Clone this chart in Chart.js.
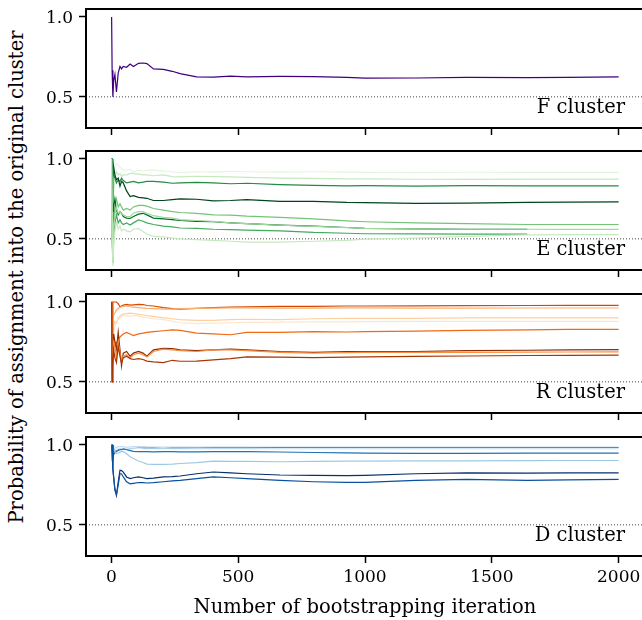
<!DOCTYPE html>
<html><head><meta charset="utf-8">
<script src="https://cdn.jsdelivr.net/npm/chart.js@4.4.0/dist/chart.umd.min.js"></script>
<style>
html,body{margin:0;padding:0;background:#fff;overflow:hidden;width:642px;height:620px;position:relative;}
canvas{position:absolute;left:0;}
#ylab{position:absolute;width:600px;left:-283px;top:267px;height:20px;line-height:20px;text-align:center;transform:rotate(-90deg);font-family:"DejaVu Serif";font-size:19.5px;color:#000;white-space:nowrap;}
</style></head><body>
<div id="ylab"></div>
<canvas id="c0"></canvas><canvas id="c1"></canvas><canvas id="c2"></canvas><canvas id="c3"></canvas>
<script>
// ---------- data ----------
const ITERS = [1,3,6,9,14,20,27,34,40,47,60,74,87,107,125,140,166,205,240,271,336,402,470,534,665,797,928,1000,1200,1400,1640,1800,2000];
const X_TICKS = [0,500,1000,1500,2000];
const Y_TICKS = [0.5,1.0];
const REF_LEVEL = 0.5;
const X_RANGE = [-100,2100];
const Y_RANGE = [0.305,1.05];
const PANEL_LABELS = ['F cluster','E cluster','R cluster','D cluster'];
const X_LABEL = 'Number of bootstrapping iteration';
const Y_LABEL = 'Probability of assignment into the original cluster';

const F_LINES = [
 [1.0,0.667,0.5,0.6,0.64,0.53,0.65,0.69,0.675,0.69,0.685,0.705,0.69,0.71,0.712,0.708,0.675,0.672,0.66,0.645,0.625,0.623,0.63,0.625,0.628,0.627,0.622,0.617,0.618,0.622,0.62,0.622,0.625]
];
const F_COLORS = ['#3f007d'];

const E_LINES = [
 [1,1,1,0.9,0.95,0.97,0.96,0.95,0.94,0.93,0.93,0.935,0.92,0.93,0.925,0.93,0.93,0.925,0.92,0.915,0.92,0.918,0.922,0.92,0.918,0.92,0.918,0.916,0.915,0.917,0.916,0.916,0.916],
 [1,1,0.67,0.8,0.88,0.92,0.9,0.91,0.89,0.9,0.9,0.91,0.91,0.905,0.9,0.9,0.895,0.9,0.89,0.888,0.892,0.89,0.888,0.885,0.88,0.878,0.876,0.875,0.873,0.872,0.874,0.874,0.874],
 [1,1,1,0.9,0.88,0.85,0.87,0.86,0.88,0.865,0.85,0.855,0.86,0.85,0.855,0.86,0.86,0.855,0.848,0.85,0.853,0.85,0.845,0.848,0.84,0.835,0.832,0.833,0.83,0.833,0.832,0.832,0.832],
 [1,1,1,0.95,0.9,0.87,0.88,0.83,0.86,0.85,0.8,0.765,0.77,0.76,0.757,0.754,0.74,0.74,0.745,0.75,0.748,0.738,0.74,0.745,0.735,0.735,0.728,0.727,0.722,0.724,0.728,0.73,0.731],
 [1,0.5,0.4,0.6,0.7,0.75,0.7,0.72,0.7,0.68,0.69,0.68,0.7,0.71,0.71,0.705,0.69,0.68,0.67,0.665,0.66,0.65,0.648,0.642,0.635,0.625,0.612,0.607,0.6,0.595,0.59,0.59,0.59],
 [1,1,0.5,0.7,0.75,0.68,0.65,0.67,0.66,0.64,0.63,0.628,0.64,0.655,0.66,0.65,0.63,0.625,0.62,0.615,0.61,0.607,0.6,0.595,0.586,0.58,0.571,0.566,0.562,0.56,0.56,null,null],
 [1,0.5,0.35,0.5,0.6,0.65,0.6,0.62,0.6,0.59,0.6,0.586,0.6,0.618,0.61,0.6,0.59,0.58,0.575,0.568,0.565,0.56,0.558,0.555,0.55,0.54,0.535,0.532,0.531,0.53,0.53,null,null],
 [1,0.67,0.45,0.55,0.65,0.7,0.66,0.67,0.66,0.65,0.64,0.64,0.66,0.67,0.67,0.66,0.645,0.635,0.63,0.62,0.615,0.61,0.6,0.595,0.585,0.578,0.57,0.566,0.562,0.56,0.56,0.559,0.559],
 [1,0.5,0.33,0.45,0.55,0.6,0.56,0.58,0.55,0.56,0.55,0.544,0.56,0.565,0.545,0.53,0.515,0.513,0.505,0.5,0.495,0.49,0.485,0.48,0.48,0.485,0.49,0.498,0.505,0.515,0.525,0.527,0.527]
];
const E_COLORS = ['#e5f5e0','#c7e9c0','#238b45','#00441b','#74c476','#006d2c','#41ab5d','#a1d99b','#c7e9c0'];

const R_LINES = [
 [1,1,1,1,1,1,0.99,0.97,0.975,0.98,0.985,0.98,0.982,0.985,0.984,0.978,0.975,0.965,0.958,0.955,0.96,0.965,0.968,0.97,0.972,0.973,0.975,0.975,0.976,0.977,0.978,0.979,0.979],
 [1,1,0.9,0.92,0.93,0.95,0.96,0.965,0.97,0.972,0.975,0.97,0.968,0.965,0.962,0.96,0.958,0.955,0.955,0.958,0.96,0.962,0.963,0.963,0.962,0.962,0.963,0.963,0.962,0.962,0.9625,0.9625,0.9625],
 [1,1,0.8,0.85,0.88,0.87,0.9,0.91,0.92,0.925,0.927,0.93,0.928,0.922,0.92,0.915,0.91,0.9,0.895,0.89,0.885,0.885,0.89,0.892,0.89,0.895,0.897,0.898,0.898,0.9,0.9,0.9,0.9],
 [1,0.67,0.75,0.8,0.85,0.88,0.89,0.9,0.91,0.915,0.915,0.91,0.915,0.912,0.905,0.9,0.895,0.89,0.88,0.87,0.865,0.868,0.87,0.872,0.874,0.876,0.876,0.877,0.878,0.878,0.879,0.879,0.879],
 [1,1,0.67,0.7,0.75,0.74,0.77,0.78,0.79,0.8,0.81,0.8,0.79,0.8,0.805,0.81,0.815,0.82,0.825,0.822,0.805,0.8,0.795,0.81,0.81,0.815,0.812,0.815,0.818,0.822,0.826,0.828,0.829],
 [1,0.5,0.5,0.8,0.75,0.7,0.81,0.7,0.6,0.68,0.69,0.66,0.68,0.69,0.68,0.66,0.7,0.71,0.708,0.7,0.695,0.7,0.705,0.7,0.69,0.685,0.69,0.69,0.69,0.695,0.698,0.7,0.702],
 [1,0.5,0.67,0.75,0.72,0.65,0.75,0.68,0.63,0.66,0.67,0.65,0.67,0.68,0.67,0.655,0.69,0.705,0.7,0.695,0.69,0.7,0.7,0.695,0.685,0.68,0.683,0.685,0.684,0.685,0.686,0.687,0.6875],
 [1,0.5,0.6,0.7,0.65,0.62,0.72,0.66,0.62,0.65,0.66,0.645,0.64,0.645,0.64,0.63,0.625,0.62,0.635,0.629,0.63,0.638,0.645,0.656,0.655,0.652,0.655,0.656,0.66,0.662,0.665,0.666,0.667]
];
const R_COLORS = ['#d94801','#fdae6b','#fdd0a2','#fee6ce','#f16913','#8c2d04','#fd8d3c','#a63603'];

const D_LINES = [
 [1,1,0.95,0.97,0.98,0.985,0.99,0.99,0.99,0.988,0.987,0.988,0.99,0.99,0.99,0.988,0.987,0.987,0.987,0.986,0.986,0.987,0.987,0.987,0.987,0.987,0.987,0.987,0.987,0.987,0.987,0.987,0.987],
 [1,0.9,0.93,0.95,0.96,0.965,0.97,0.975,0.97,0.972,0.975,0.977,0.978,0.98,0.98,0.98,0.98,0.978,0.98,0.98,0.981,0.982,0.982,0.982,0.983,0.983,0.983,0.983,0.983,0.983,0.983,0.983,0.983],
 [1,1,1,1,0.98,0.97,0.98,0.975,0.97,0.975,0.978,0.98,0.98,0.978,0.976,0.975,0.975,0.976,0.975,0.975,0.975,0.975,0.975,0.975,0.975,0.975,0.975,0.975,0.975,0.975,0.975,0.975,0.975],
 [1,1,0.92,0.94,0.95,0.96,0.965,0.97,0.972,0.975,0.97,0.965,0.96,0.958,0.958,0.958,0.957,0.958,0.958,0.957,0.957,0.958,0.958,0.958,0.956,0.953,0.95,0.949,0.948,0.948,0.949,0.949,0.949],
 [1,1,0.97,0.98,0.96,0.947,0.95,0.955,0.958,0.958,0.945,0.926,0.915,0.9,0.89,0.88,0.878,0.878,0.88,0.884,0.89,0.899,0.898,0.897,0.895,0.897,0.899,0.899,0.9,0.901,0.902,0.903,0.903],
 [1,1,0.85,0.8,0.72,0.684,0.768,0.842,0.84,0.83,0.8,0.79,0.795,0.8,0.795,0.79,0.792,0.8,0.802,0.806,0.82,0.831,0.826,0.82,0.812,0.81,0.808,0.81,0.82,0.826,0.824,0.825,0.825],
 [1,1,0.85,0.8,0.72,0.69,0.75,0.82,0.82,0.8,0.77,0.757,0.76,0.765,0.764,0.762,0.764,0.77,0.775,0.778,0.79,0.8,0.795,0.789,0.778,0.77,0.766,0.766,0.778,0.785,0.778,0.782,0.785]
];
const D_COLORS = ['#c6dbef','#4292c6','#deebf7','#2171b5','#9ecae1','#08306b','#08519c'];

// ---------- layout ----------
const FONT = 'DejaVu Serif';
const PANEL_TOPS = [9, 151.3, 293.6, 436.7];
const PANEL_H = 119;
const PAD_TOP = 20;
const CANVAS_W = 660;

document.getElementById('ylab').textContent = Y_LABEL;

const framePlugin = {
  id: 'frame',
  afterDatasetsDraw(chart, args, opts) {
    const {ctx, chartArea: a} = chart;
    ctx.save();
    ctx.strokeStyle = '#000';
    ctx.lineWidth = 2;
    ctx.strokeRect(a.left, a.top, a.right - a.left, a.bottom - a.top);
    ctx.font = '19.5px "' + FONT + '"';
    ctx.fillStyle = '#000';
    ctx.textAlign = 'right';
    ctx.textBaseline = 'alphabetic';
    ctx.fillText(opts.label, a.right - 19, a.bottom - 15.5);
    ctx.restore();
  }
};

function makePanel(idx, lines, colors, label, last) {
  const cv = document.getElementById('c' + idx);
  const xh = last ? 64 : 30;
  const H = PAD_TOP + PANEL_H + xh;
  cv.width = CANVAS_W; cv.height = H;
  cv.style.width = CANVAS_W + 'px'; cv.style.height = H + 'px';
  cv.style.top = (PANEL_TOPS[idx] - PAD_TOP) + 'px';

  const datasets = lines.map((vals, i) => ({
    data: vals.map((v, j) => ({x: ITERS[j], y: v})).filter(p => p.y !== null),
    borderColor: colors[i],
    borderWidth: 1.2,
    pointRadius: 0,
    fill: false,
    tension: 0,
    order: lines.length - i
  }));
  datasets.push({
    data: X_RANGE.map(x => ({x: x, y: REF_LEVEL})),
    borderColor: '#444',
    borderWidth: 1,
    borderDash: [1, 2],
    pointRadius: 0,
    fill: false,
    order: 100
  });

  const gridOpts = {display: true, drawOnChartArea: false, drawTicks: true, tickLength: 7, tickWidth: 1.5, tickColor: '#000'};

  new Chart(cv, {
    type: 'line',
    data: {datasets},
    plugins: [framePlugin],
    options: {
      responsive: false,
      animation: false,
      events: [],
      layout: {padding: {top: PAD_TOP, left: 0, right: CANVAS_W - 644, bottom: 0}},
      plugins: {legend: {display: false}, tooltip: {enabled: false}, frame: {label}},
      scales: {
        x: {
          type: 'linear', min: X_RANGE[0], max: X_RANGE[1],
          afterBuildTicks: s => { s.ticks = X_TICKS.map(v => ({value: v})); },
          afterFit: s => { s.height = xh; },
          grid: gridOpts,
          border: {display: false},
          ticks: {color: last ? '#000' : 'rgba(0,0,0,0)', font: {family: FONT, size: 17}, padding: 4, maxRotation: 0, autoSkip: false, callback: v => String(v)},
          title: {display: last, text: X_LABEL, color: '#000', font: {family: FONT, size: 19.5}, padding: {top: 0, bottom: 0}}
        },
        y: {
          min: Y_RANGE[0], max: Y_RANGE[1],
          afterBuildTicks: s => { s.ticks = Y_TICKS.map(v => ({value: v})); },
          afterFit: s => { s.width = 86; },
          grid: gridOpts,
          border: {display: false},
          ticks: {color: '#000', font: {family: FONT, size: 17}, padding: 6, labelOffset: 2, callback: v => Number(v).toFixed(1)}
        }
      }
    }
  });
}

makePanel(0, F_LINES, F_COLORS, PANEL_LABELS[0], false);
makePanel(1, E_LINES, E_COLORS, PANEL_LABELS[1], false);
makePanel(2, R_LINES, R_COLORS, PANEL_LABELS[2], false);
makePanel(3, D_LINES, D_COLORS, PANEL_LABELS[3], true);
</script>
</body></html>
